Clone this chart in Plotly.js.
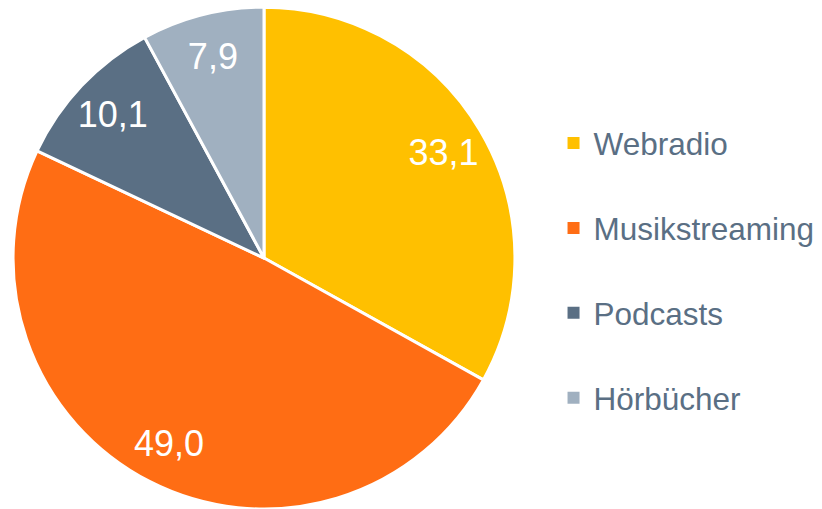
<!DOCTYPE html>
<html>
<head>
<meta charset="utf-8">
<script src="https://cdn.plot.ly/plotly-3.0.1.min.js"></script>
<style>
  html, body { margin: 0; padding: 0; background: #fff; }
  #chart { width: 822px; height: 509px; }
</style>
</head>
<body>
<div id="chart"></div>
<script>
var labels = ['Webradio', 'Musikstreaming', 'Podcasts', 'Hörbücher'];
var values = [33.1, 49.0, 10.1, 7.9];
var colors = ['#FFC000', '#FF6D14', '#5A6F84', '#A0B0C0'];

var pieDomain = { x: [13 / 822, 515 / 822], y: [0, 0.986] };

// filled slices
var pie = {
    type: 'pie',
    labels: labels,
    values: values,
    sort: false,
    direction: 'clockwise',
    rotation: 0,
    marker: { colors: colors, line: { color: '#ffffff', width: 3 } },
    textinfo: 'none',
    domain: pieDomain,
    showlegend: false,
    hoverinfo: 'none'
};

// transparent ring on top, only used to put the value labels further out
var ring = {
    type: 'pie',
    labels: labels,
    values: values,
    sort: false,
    direction: 'clockwise',
    rotation: 0,
    hole: 0.66,
    marker: { colors: colors.map(function () { return 'rgba(0,0,0,0)'; }), line: { width: 0 } },
    texttemplate: '%{value:.1f}',
    textposition: 'inside',
    insidetextorientation: 'horizontal',
    textfont: { family: 'Liberation Sans, Arial, sans-serif', size: 36, color: '#ffffff' },
    domain: pieDomain,
    showlegend: false,
    hoverinfo: 'none'
};

// legend entries as square markers, one group each so they can be spaced
var legendTraces = labels.map(function (name, i) {
    return {
        type: 'scatter',
        mode: 'markers',
        x: [null],
        y: [null],
        name: name,
        legendgroup: 'g' + i,
        marker: { symbol: 'square', size: 12, color: colors[i] },
        hoverinfo: 'none'
    };
});

var layout = {
    width: 822,
    height: 509,
    margin: { l: 0, r: 0, t: 0, b: 0 },
    separators: ',.',
    paper_bgcolor: '#ffffff',
    plot_bgcolor: '#ffffff',
    xaxis: { visible: false },
    yaxis: { visible: false },
    showlegend: true,
    legend: {
        x: 0.6734,
        xanchor: 'left',
        y: 0.4686,
        yanchor: 'middle',
        tracegroupgap: 41,
        font: { family: 'Liberation Sans, Arial, sans-serif', size: 31.5, color: '#5A6F84' }
    }
};

Plotly.newPlot('chart', [pie, ring].concat(legendTraces), layout, { staticPlot: true });
</script>
</body>
</html>
